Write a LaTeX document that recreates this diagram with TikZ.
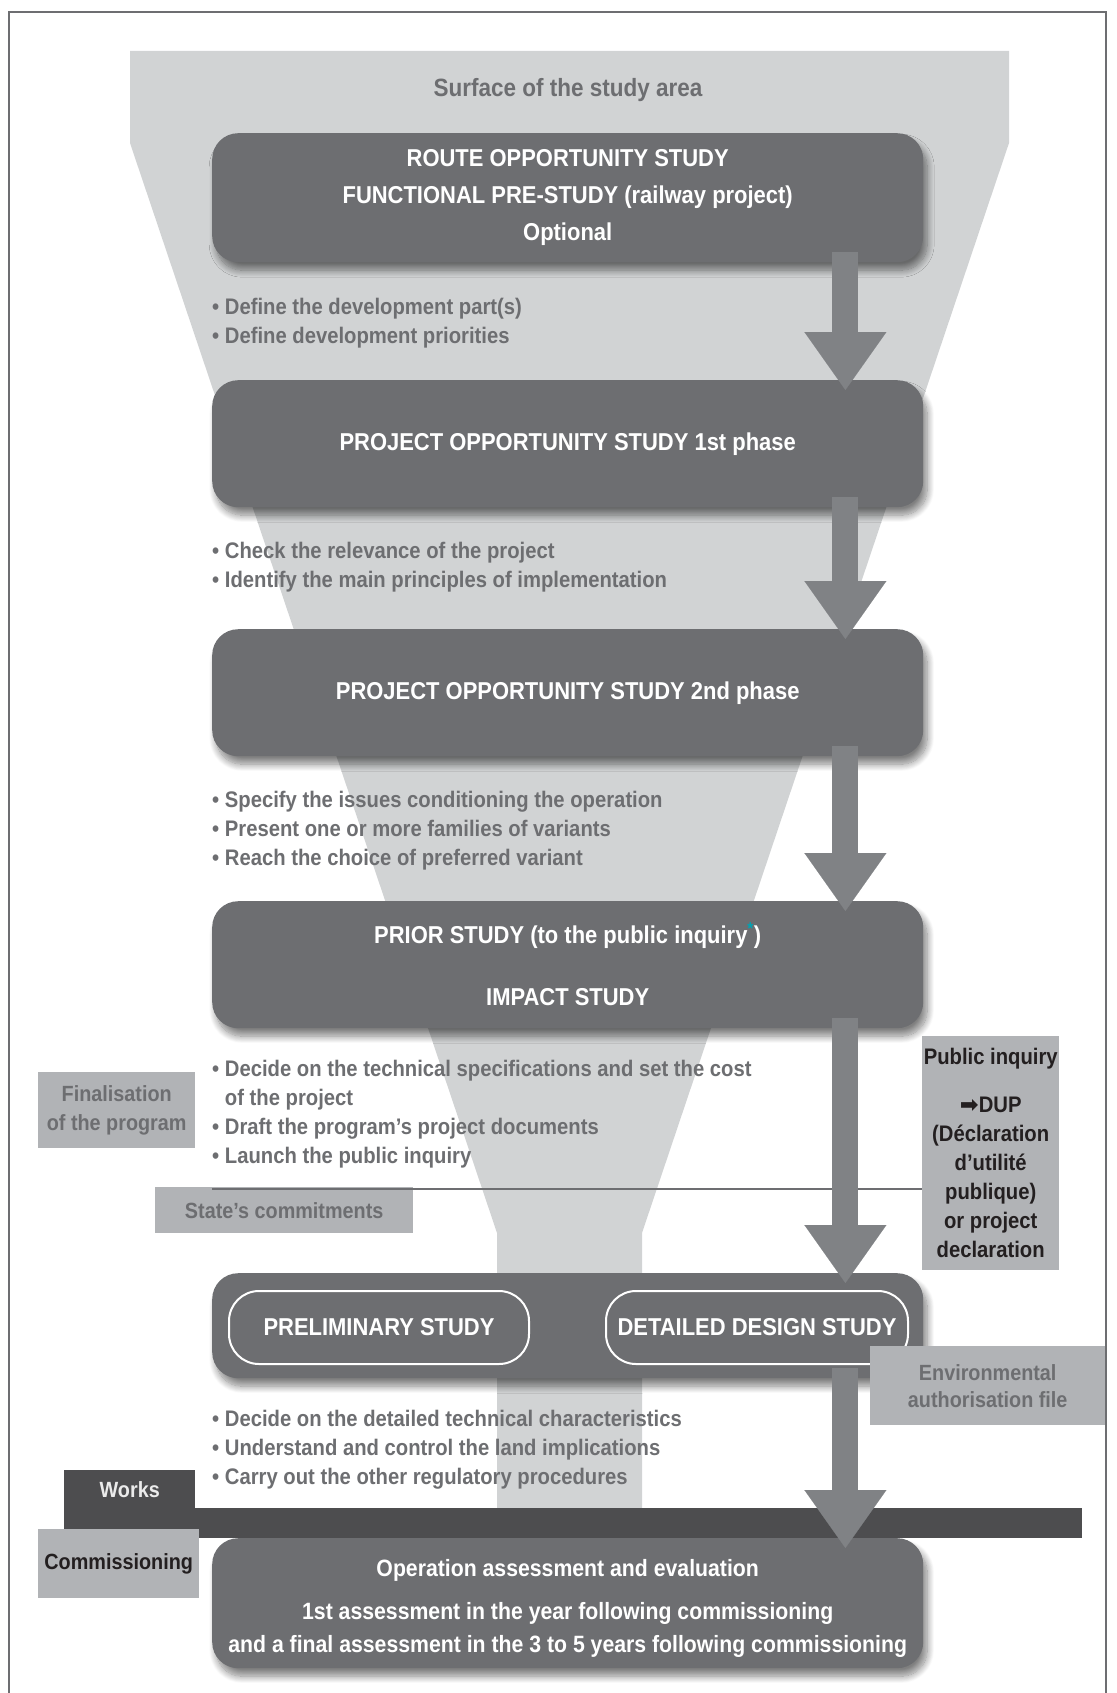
\documentclass[tikz,border=0pt]{standalone}
\usepackage{fontspec}
\setmainfont{Liberation Sans}[FakeStretch=0.9]
\newfontfamily\symbfont{DejaVu Sans}
\usetikzlibrary{arrows.meta, positioning, calc, shadows.blur}
\definecolor{funnelgray}{RGB}{209, 211, 212}
\definecolor{stagegray}{RGB}{109, 110, 113}
\definecolor{arrowgray}{RGB}{128, 130, 133}
\definecolor{taggray}{RGB}{177, 179, 182}
\definecolor{worksgray}{RGB}{77, 77, 79}
\definecolor{inkblack}{RGB}{35, 31, 32}
\definecolor{starteal}{RGB}{0, 164, 180}
\newcommand{\stagefont}{\fontsize{24.4}{37}\selectfont\bfseries}
\newcommand{\aimfont}{\fontsize{22.5}{29}\selectfont\bfseries}

\tikzset{
  stage/.style={fill=stagegray, rounded corners=26pt, minimum width=711pt,
    anchor=north west, align=center, text=white, font=\stagefont,
    blur shadow={shadow xshift=4pt, shadow yshift=-8pt, shadow blur radius=7pt,
      shadow blur steps=12, shadow opacity=50}},
  substage/.style={draw=white, line width=2pt, rounded corners=30pt,
    minimum width=300pt, minimum height=73pt, anchor=north west,
    text=white, font=\stagefont},
  aims/.style={anchor=north west, align=left, text=stagegray, font=\aimfont},
  tag/.style={fill=taggray, anchor=north west, align=center, text=stagegray,
    font=\fontsize{22}{29}\selectfont\bfseries},
  bigarrow/.style={draw=arrowgray, line width=26pt,
    -{Triangle[length=58pt, width=82pt, line width=0.1pt]}}
}

\begin{document}
\begin{tikzpicture}[x=1pt, y=-1pt, every node/.style={inner sep=0pt}]
    \useasboundingbox (0,0) rectangle (1116,1693);
    % frame
    \draw[stagegray, line width=2pt] (8.5,1700) -- (8.5,12) -- (1106,12) -- (1106,1700);

    % Funnel of the study area
    \fill[funnelgray] (130,51) -- (1009,51) -- (1009,143) -- (642,1233) -- (642,1508)
      -- (497,1508) -- (497,1233) -- (130,143) -- cycle;
    \node[font=\fontsize{25}{30}\selectfont\bfseries, text=stagegray] (surface) at (568,90) {Surface of the study area};

    % Study stages
    \node[stage, minimum height=129pt] (route) at (212,133)
      {ROUTE OPPORTUNITY STUDY\\FUNCTIONAL PRE-STUDY (railway project)\\Optional};
    \node[stage, minimum height=127pt] (phase1) at (212,380) {PROJECT OPPORTUNITY STUDY 1st phase};
    \node[stage, minimum height=127pt] (phase2) at (212,629) {PROJECT OPPORTUNITY STUDY 2nd phase};
    \node[stage, minimum height=127pt] (prior) at (212,901)
      {PRIOR STUDY (to the public inquiry\textsuperscript{\color{starteal}*})\\[25pt]IMPACT STUDY};
    \node[stage, minimum height=105pt] (design) at (212,1273) {};
    \node[substage] (prelim) at (228,1290) {PRELIMINARY STUDY};
    \node[substage, minimum width=302pt] (detail) at (605,1290) {DETAILED DESIGN STUDY};
    \node[stage, minimum height=130pt, font=\fontsize{23.6}{33}\selectfont\bfseries] (ops) at (212,1538)
      {\\[-6pt]Operation assessment and evaluation\\[10pt]1st assessment in the year following commissioning\\
       and a final assessment in the 3 to 5 years following commissioning};

    % Aims of each stage
    \node[aims] (aims1) at (212,298)
      {\textbullet\ Define the development part(s)\\\textbullet\ Define development priorities};
    \node[aims] (aims2) at (212,542)
      {\textbullet\ Check the relevance of the project\\\textbullet\ Identify the main principles of implementation};
    \node[aims] (aims3) at (212,791)
      {\textbullet\ Specify the issues conditioning the operation\\\textbullet\ Present one or more families of variants\\
       \textbullet\ Reach the choice of preferred variant};
    \node[aims] (aims4) at (212,1060)
      {\textbullet\ Decide on the technical specifications and set the cost\\\phantom{\textbullet\ }of the project\\
       \textbullet\ Draft the program’s project documents\\\textbullet\ Launch the public inquiry};
    \node[aims] (aims5) at (212,1410)
      {\textbullet\ Decide on the detailed technical characteristics\\\textbullet\ Understand and control the land implications\\
       \textbullet\ Carry out the other regulatory procedures};

    % Side labels
    \node[tag, minimum width=157pt, minimum height=76pt] (final) at (38,1072) {Finalisation\\of the program};
    \node[tag, minimum width=137pt, minimum height=234pt, text=inkblack,
          font=\fontsize{22.5}{29}\selectfont\bfseries] (inquiry) at (922,1036)
      {Public inquiry\\[19pt]{\symbfont ➡}DUP\\(Déclaration\\d’utilité\\publique)\\or project\\declaration};
    \node[tag, minimum width=258pt, minimum height=46pt] (state) at (155,1187) {State’s commitments};
    \coordinate (cut) at (212,1189);
    \draw[stagegray, line width=2pt] (cut) -- (cut -| inquiry.west);
    \node[tag, minimum width=235pt, minimum height=79pt, font=\fontsize{22}{27}\selectfont\bfseries] (envfile) at (870,1346)
      {Environmental\\authorisation file};

    % Works and commissioning
    \node[anchor=north west, fill=worksgray, minimum width=131pt, minimum height=38pt,
          text=white!92!black, font=\fontsize{22}{29}\selectfont\bfseries] (works) at (64,1470) {Works};
    \fill[worksgray] (works.south west) rectangle (1082,1538);
    \node[tag, minimum width=161pt, minimum height=69pt, text=inkblack] (commission) at (38,1529) {Commissioning};

    % Arrows
    \foreach \from/\to in {route/phase1, phase1/phase2, phase2/prior, prior/design, design/ops}
      \draw[bigarrow] ($(\from.south east)+(-78,-10)$) -- ($(\to.north east)+(-78,10)$);
\end{tikzpicture}
\end{document}
